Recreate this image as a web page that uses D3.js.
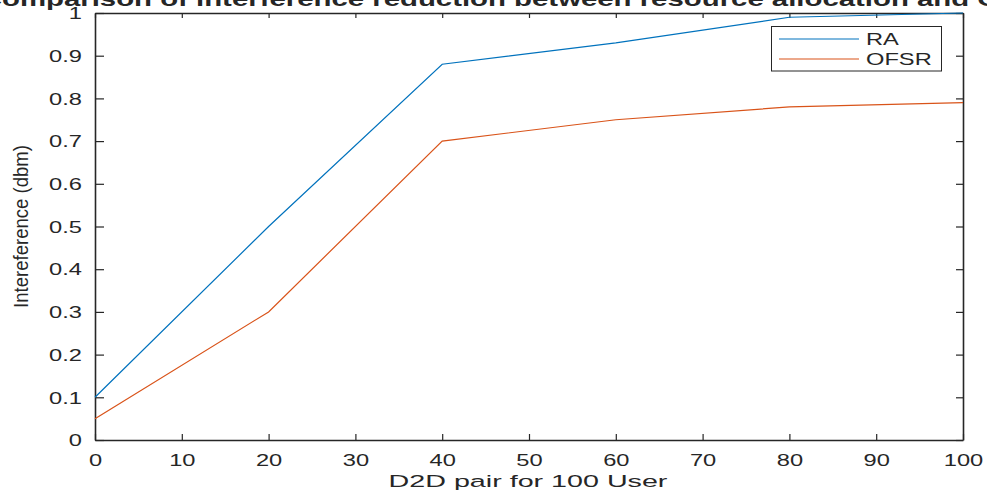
<!DOCTYPE html>
<html><head><meta charset="utf-8">
<script src="https://cdn.jsdelivr.net/npm/d3@7"></script>
<style>
body{margin:0;background:#fff}
svg{display:block}
text{font-family:"Liberation Sans",Arial,Helvetica,sans-serif;fill:#262626}
</style>
</head><body>
<svg id="chart" width="987" height="498"></svg>
<script>
// ---- data ----
const xValues = [0, 20, 40, 60, 80, 100];
const raValues = [0.1, 0.5, 0.88, 0.93, 0.99, 1.0];
const ofsrValues = [0.05, 0.3, 0.7, 0.75, 0.78, 0.79];
const xTickValues = [0, 10, 20, 30, 40, 50, 60, 70, 80, 90, 100];
const yTickValues = [0, 0.1, 0.2, 0.3, 0.4, 0.5, 0.6, 0.7, 0.8, 0.9, 1];
const seriesNames = ["RA", "OFSR"];
const titleText = "Comparison of interference reduction between resource allocation and OFSR";
const xLabelText = "D2D pair for 100 User";
const yLabelText = "Intereference (dbm)";

// ---- layout ----
const L = 95, R = 963, T = 13, B = 440;
const colors = ["#0072BD", "#D95319"];
const axisColor = "#262626";
const stretch = 1.48;

const svg = d3.select("#chart");
const x = d3.scaleLinear().domain([0, 100]).range([L, R]);
const y = d3.scaleLinear().domain([0, 1]).range([B, T]);
const fmt = d3.format(".1~f");

function styleAxis(g) {
  g.select(".domain").attr("stroke", axisColor).attr("stroke-width", 1.6);
  g.selectAll(".tick line").attr("stroke", axisColor).attr("stroke-width", 1.2);
}
const gB = svg.append("g").attr("transform", `translate(0,${B})`)
  .call(d3.axisBottom(x).tickValues(xTickValues).tickSizeInner(-6).tickSizeOuter(0).tickFormat(d3.format("d")));
styleAxis(gB);
gB.selectAll(".tick text").attr("y", 0).attr("dy", null)
  .attr("transform", `translate(0,25.5) scale(${stretch},1)`)
  .attr("font-size", 16).attr("fill", axisColor).attr("text-anchor", "middle")
  .attr("font-family", '"Liberation Sans",Arial,sans-serif');

const gL = svg.append("g").attr("transform", `translate(${L},0)`)
  .call(d3.axisLeft(y).tickValues(yTickValues).tickSizeInner(-9).tickSizeOuter(0).tickFormat(fmt));
styleAxis(gL);
gL.selectAll(".tick text").attr("x", 0).attr("dy", null).attr("y", 0)
  .attr("transform", `translate(-13,5.7) scale(${stretch},1)`)
  .attr("font-size", 16).attr("fill", axisColor).attr("text-anchor", "end")
  .attr("font-family", '"Liberation Sans",Arial,sans-serif');

const gT = svg.append("g").attr("transform", `translate(0,${T})`)
  .call(d3.axisTop(x).tickValues(xTickValues).tickSizeInner(-5).tickSizeOuter(0).tickFormat(""));
styleAxis(gT);
const gR = svg.append("g").attr("transform", `translate(${R},0)`)
  .call(d3.axisRight(y).tickValues(yTickValues).tickSizeInner(-7).tickSizeOuter(0).tickFormat(""));
styleAxis(gR);

// lines
const series = [raValues, ofsrValues];
const line = d3.line().x((d, i) => x(xValues[i])).y(d => y(d));
series.forEach((vals, k) => {
  svg.append("path").datum(vals)
    .attr("d", line).attr("fill", "none")
    .attr("stroke", colors[k]).attr("stroke-width", 1.2);
});

// axis labels
const xl = svg.append("text").text(xLabelText).attr("font-size", 17)
  .attr("text-anchor", "middle");
const xlw = xl.node().getComputedTextLength();
xl.attr("transform", `translate(${(L + R) / 2 - 1},487) scale(${279 / xlw},1)`);

const yl = svg.append("text").text(yLabelText).attr("font-size", 20)
  .attr("text-anchor", "middle");
const ylw = yl.node().getComputedTextLength();
yl.attr("transform", `translate(27.5,${(T + B) / 2}) rotate(-90) scale(${163 / ylw},1)`);

// title (wider than the window, cropped at both sides as in the reference)
const tmp = svg.append("text").attr("font-size", 20).attr("font-weight", "bold");
tmp.text(titleText.charAt(0)); const wC = tmp.node().getComputedTextLength();
const andEnd = titleText.indexOf(" and") + 4;
tmp.text(titleText.slice(0, andEnd)); const wA = tmp.node().getComputedTextLength();
tmp.remove();
const ts = (970 - 2) / (wA - wC);
svg.append("text").text(titleText).attr("font-size", 20).attr("font-weight", "bold")
  .attr("fill", "#000")
  .attr("transform", `translate(${2 - ts * wC},6) scale(${ts},1)`);

// legend
const lg = svg.append("g");
lg.append("rect").attr("x", 771.5).attr("y", 26.5).attr("width", 170).attr("height", 44.5)
  .attr("fill", "#fff").attr("stroke", axisColor).attr("stroke-width", 1);
const legY = [39, 59];
seriesNames.forEach((name, k) => {
  lg.append("line").attr("x1", 779).attr("x2", 859).attr("y1", legY[k]).attr("y2", legY[k])
    .attr("stroke", colors[k]).attr("stroke-width", 1.2);
  lg.append("text").text(name).attr("font-size", 16)
    .attr("transform", `translate(866,${legY[k] + 6}) scale(${stretch},1)`);
});
</script>
</body></html>
